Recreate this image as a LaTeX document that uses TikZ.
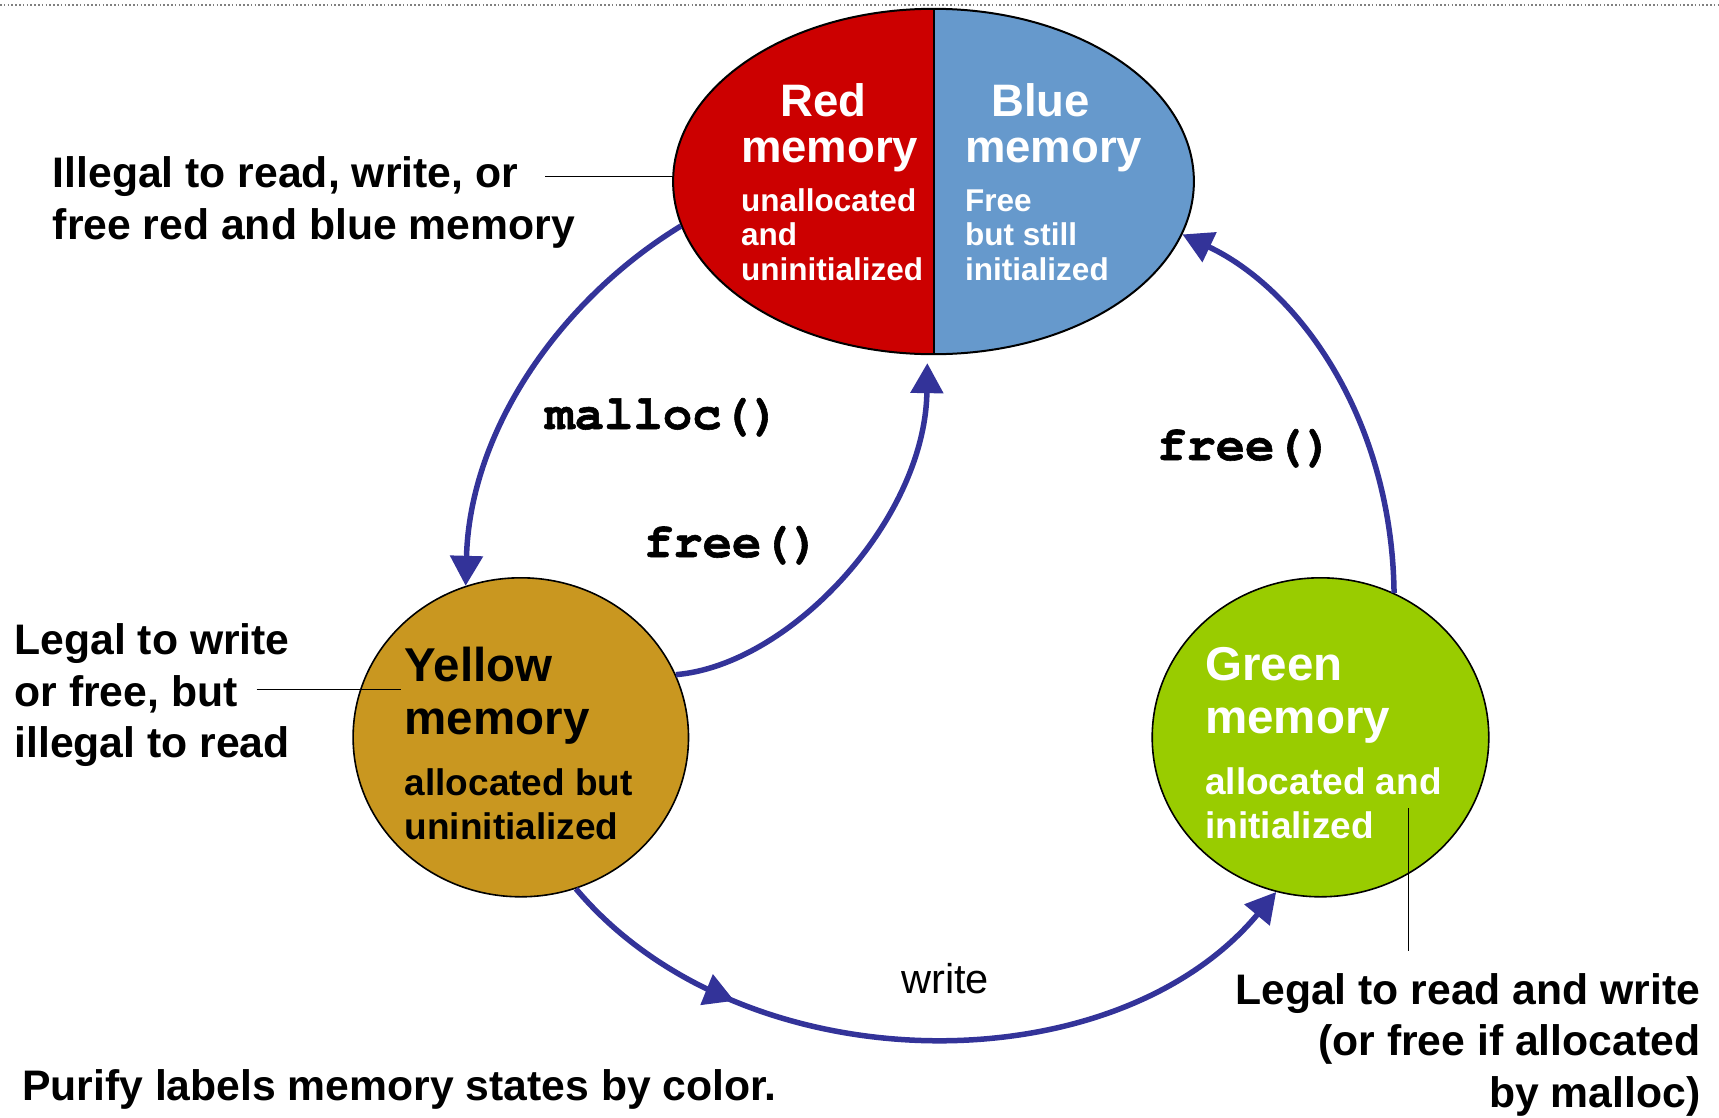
\documentclass[tikz,border=0pt]{standalone}
\usepackage{fontspec}
\setmainfont{Liberation Sans}
\newfontfamily\codefont[BoldFeatures={FakeBold=1.2}]{TeX Gyre Cursor}
\usetikzlibrary{shapes.geometric,arrows.meta,decorations.markings}

\definecolor{redmem}{HTML}{CC0000}
\definecolor{bluemem}{HTML}{6699CC}
\definecolor{yellowmem}{HTML}{C99720}
\definecolor{greenmem}{HTML}{99CC00}
\definecolor{arrowblue}{HTML}{333399}

% multi-line nodes below are anchored at the baseline of their last line
\tikzset{
  state/.style={draw=black, ellipse, inner sep=0pt, line width=1.6pt},
  txt/.style={inner sep=0pt, anchor=base west, align=left, font=\bfseries},
  note/.style={txt, font=\fontsize{42.7}{51.5}\selectfont\bfseries},
  statename/.style={txt, font=\fontsize{#1}{#1}\selectfont\bfseries},
  code/.style={inner sep=0pt, anchor=base west, font=\fontsize{49}{49}\selectfont\codefont\bfseries},
  trans/.style={draw=arrowblue, line width=5.5pt,
    -{Triangle[length=30pt,width=32pt]}},
  leader/.style={draw=black, line width=1.5pt},
}

\begin{document}
\begin{tikzpicture}[x=1pt, y=-1pt]
\useasboundingbox (0,0) rectangle (1719,1117);

% dotted rule along the top edge
\coordinate (ruleL) at (0,5);
\coordinate (ruleR) at (1719,5);
\draw[gray, line width=1.6pt, dash pattern=on 1.6pt off 2.2pt] (ruleL) -- (ruleR);

% the free (red / blue) state, split down the middle
\node[state, line width=2pt, minimum width=520.8pt, minimum height=345.4pt,
  path picture={
    \fill[redmem] (path picture bounding box.south west) rectangle (path picture bounding box.north);
    \fill[bluemem] (path picture bounding box.south) rectangle (path picture bounding box.north east);
    \draw[line width=2pt] (path picture bounding box.south) -- (path picture bounding box.north);
  }] (mem) at (933.5,181.5) {};

% allocated states
\node[state, fill=yellowmem, minimum width=335.4pt, minimum height=319pt] (yel) at (520.8,737.3) {};
\node[state, fill=greenmem, minimum width=336.6pt, minimum height=319pt] (grn) at (1320.5,737.3) {};

% state texts
\node[statename=45.5, text=white, align=left] (redname) at (741,162) {\hspace*{39.6pt}Red\\memory};
\node[txt, text=white, font=\fontsize{31.5}{34.5}\selectfont\bfseries] (reddesc) at (741,280) {unallocated\\and\\uninitialized};
\node[statename=45.5, text=white] (bluename) at (965,162) {\hspace*{26pt}Blue\\memory};
\node[txt, text=white, font=\fontsize{31.5}{34.5}\selectfont\bfseries] (bluedesc) at (965,280) {Free\\but still\\initialized};

\node[txt, text=black, font=\fontsize{47.5}{52.5}\selectfont\bfseries] (yelname) at (404.5,734) {Yellow\\memory};
\node[txt, text=black, font=\fontsize{37}{44}\selectfont\bfseries] (yeldesc) at (404.5,839) {allocated but\\uninitialized};
\node[txt, text=white, font=\fontsize{47.5}{52.5}\selectfont\bfseries] (grnname) at (1205,733) {Green\\memory};
\node[txt, text=white, font=\fontsize{37}{44}\selectfont\bfseries] (grndesc) at (1205,838) {allocated and\\initialized};

% side notes
\node[note] (illegal) at (52.6,239) {Illegal to read, write, or\\free red and blue memory};
\node[note] (legalw) at (14.3,757.5) {Legal to write\\or free, but\\illegal to read};
\node[note, anchor=base east, align=right] (legalrw) at (1700.5,1107) {Legal to read and write\\(or free if allocated\\by malloc)};
\node[note] (purify) at (22,1100.5) {Purify labels memory states by color.};

% leader lines from the notes
\coordinate (ilA) at (545,176.5);
\draw[leader] (ilA) -- (ilA -| mem.west);
\coordinate (ylA) at (256.5,689.6);
\coordinate (ylB) at (401,689.6);
\draw[leader] (ylA) -- (ylB);
\coordinate (glA) at (1408.7,808);
\coordinate (glB) at (1408.7,950.5);
\draw[leader] (glA) -- (glB);

% transitions
\draw[trans] (mem.190.5) .. controls (560,300) and (470,430) .. (yel.110.4);
\draw[trans, shorten >=8pt] (yel.22.6) .. controls (790,665) and (925,520) .. (mem.268);
\draw[trans] (grn.63.8) .. controls (1392,420) and (1300,290) .. (mem.348.3);
\draw[trans, postaction={decorate, decoration={markings,
    mark=at position 0.25 with {\arrow{Triangle[length=30pt,width=32pt]}}}}]
  (yel.290.5) .. controls (742,1086) and (1113,1088) .. (grn.254.4);

% transition labels
\node[code] (malloc) at (545,429) {malloc()};
\node[code] (freeL) at (643.6,557) {free()};
\node[code] (freeR) at (1156.7,460) {free()};
\node[inner sep=0pt, anchor=base west, font=\fontsize{41.6}{41.6}\selectfont] (write) at (901,993) {write};
\end{tikzpicture}
\end{document}
